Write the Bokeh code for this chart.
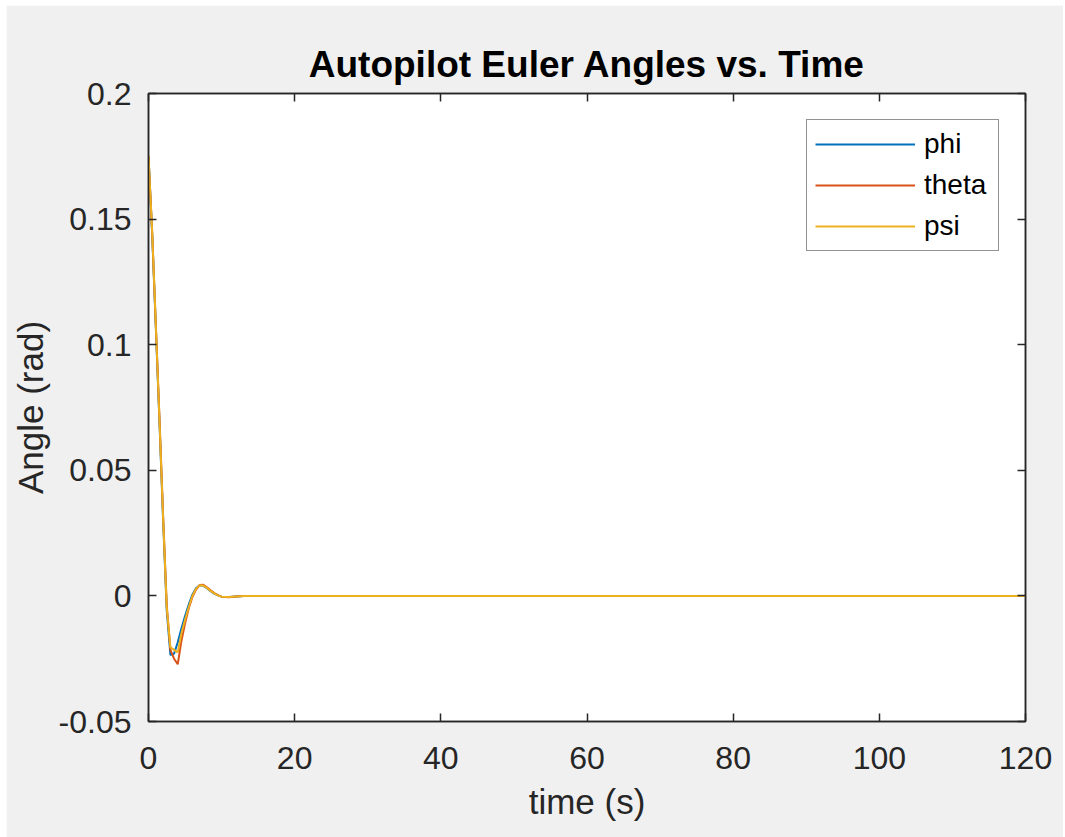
from bokeh.plotting import figure
from bokeh.models import (Range1d, LinearAxis, FixedTicker, CustomJSTickFormatter,
                          Legend, LegendItem)
from bokeh.embed import file_html
from bokeh.resources import INLINE

# Euler angle responses of the autopilot (rad) against simulation time (s)
time_s = [0, 0.5, 1, 1.5, 2, 2.5, 3, 3.5, 4, 4.5, 5, 5.5, 6, 6.5, 7, 7.5, 8,
          8.5, 9, 9.5, 10, 11, 12, 13, 14, 15, 120]
phi = [0.175, 0.144, 0.107, 0.069, 0.030, -0.006, -0.0235, -0.0230, -0.0185,
       -0.0130, -0.0080, -0.0035, 0.0005, 0.0030, 0.0042, 0.0040, 0.0031,
       0.0019, 0.0009, 0.0002, -0.0003, -0.0004, -0.0002, 0.0, 0.0, 0.0, 0.0]
theta = [0.175, 0.145, 0.108, 0.071, 0.032, -0.004, -0.0215, -0.0250, -0.0272,
         -0.0180, -0.0110, -0.0050, -0.0005, 0.0025, 0.0043, 0.0044, 0.0034,
         0.0022, 0.0011, 0.0003, -0.0003, -0.0005, -0.0002, 0.0, 0.0, 0.0, 0.0]
psi = [0.175, 0.145, 0.108, 0.070, 0.031, -0.005, -0.0205, -0.0215, -0.0225,
       -0.0150, -0.0095, -0.0045, 0.0, 0.0028, 0.0042, 0.0041, 0.0032,
       0.0020, 0.0010, 0.0002, -0.0003, -0.0004, -0.0002, 0.0, 0.0, 0.0, 0.0]

series_names = ["phi", "theta", "psi"]
x_ticks = [0, 20, 40, 60, 80, 100, 120]
y_ticks = [-0.05, 0, 0.05, 0.1, 0.15, 0.2]

FONT = "Liberation Sans"
AX = "#262626"

p = figure(width=1057, height=832, output_backend="svg", toolbar_location=None,
           x_range=Range1d(0, 120), y_range=Range1d(-0.05, 0.2),
           title="Autopilot Euler Angles vs. Time",
           min_border_left=142, min_border_right=38,
           min_border_top=88, min_border_bottom=116,
           background_fill_color="white", border_fill_color="#f0f0f0",
           margin=(5, 0, 0, 6))

p.title.text_font = FONT
p.title.text_font_size = "37px"
p.title.text_font_style = "bold"
p.title.text_color = "black"
p.title.align = "center"
p.title.standoff = 18

p.xgrid.visible = False
p.ygrid.visible = False
p.outline_line_color = AX
p.outline_line_width = 1.5

label_fmt = CustomJSTickFormatter(code="return tick.toString();")
blank_fmt = CustomJSTickFormatter(code="return '';")


def style_axis(ax, ticks, formatter):
    ax.ticker = FixedTicker(ticks=ticks)
    ax.formatter = formatter
    ax.minor_tick_line_color = None
    ax.major_tick_in = 8
    ax.major_tick_out = 0
    ax.major_tick_line_color = AX
    ax.major_tick_line_width = 1.5
    ax.axis_line_color = AX
    ax.axis_line_width = 1.5
    ax.major_label_text_font = FONT
    ax.major_label_text_font_size = "32px"
    ax.major_label_text_color = AX
    ax.axis_label_text_font = FONT
    ax.axis_label_text_font_size = "35px"
    ax.axis_label_text_font_style = "normal"
    ax.axis_label_text_color = AX


style_axis(p.xaxis[0], x_ticks, label_fmt)
style_axis(p.yaxis[0], y_ticks, label_fmt)
p.xaxis[0].axis_label = "time (s)"
p.yaxis[0].axis_label = "Angle (rad)"
p.xaxis[0].major_label_standoff = 25
p.xaxis[0].axis_label_standoff = 10
p.yaxis[0].major_label_standoff = 17
p.yaxis[0].axis_label_standoff = 6

top_axis = LinearAxis()
right_axis = LinearAxis()
style_axis(top_axis, x_ticks, blank_fmt)
style_axis(right_axis, y_ticks, blank_fmt)
p.add_layout(top_axis, "above")
p.add_layout(right_axis, "right")

colors = ["#0072BD", "#D95319", "#EDB120"]
renderers = []
for ys, c in zip([phi, theta, psi], colors):
    renderers.append(p.line(time_s, ys, line_color=c, line_width=2))

legend = Legend(items=[LegendItem(label=n, renderers=[r])
                       for n, r in zip(series_names, renderers)],
                location="top_right")
legend.label_text_font = FONT
legend.label_text_font_size = "28px"
legend.label_text_color = "black"
legend.glyph_width = 100
legend.glyph_height = 20
legend.label_standoff = 9
legend.label_width = 66
legend.padding = 8
legend.spacing = 9
legend.margin = 26
legend.border_line_color = AX
legend.border_line_width = 1.5
legend.background_fill_color = "white"
legend.background_fill_alpha = 1.0
p.add_layout(legend)

open("out.html", "w").write(file_html(p, INLINE))
